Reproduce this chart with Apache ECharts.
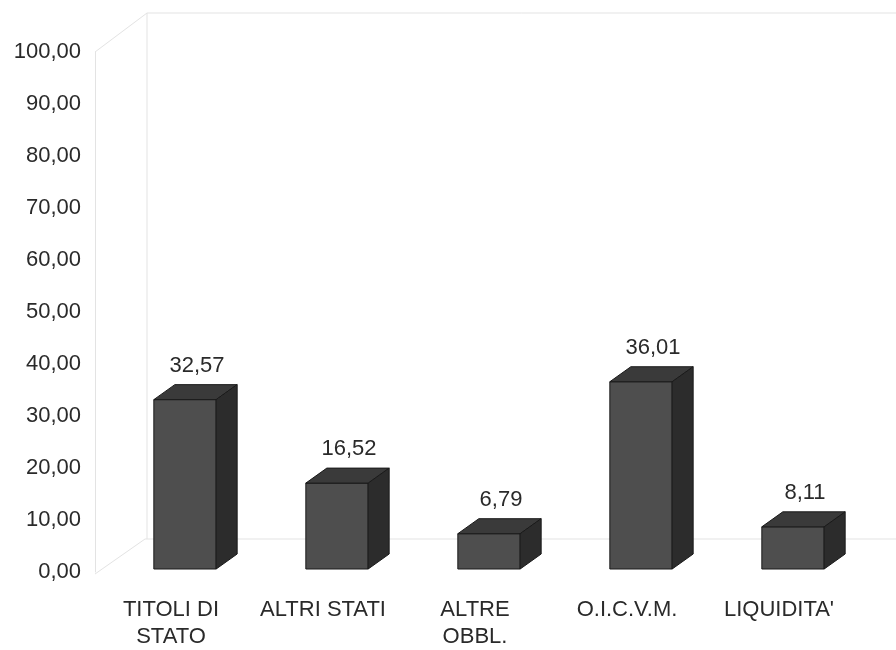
<!DOCTYPE html>
<html>
<head>
<meta charset="utf-8">
<script src="https://cdn.jsdelivr.net/npm/echarts@6/dist/echarts.min.js"></script>
<style>html,body{margin:0;padding:0;background:#fff}#c{width:896px;height:650px}</style>
</head>
<body>
<div id="c"></div>
<script>
const categories = ['TITOLI DI\nSTATO', 'ALTRI STATI', 'ALTRE\nOBBL.', 'O.I.C.V.M.', "LIQUIDITA'"];
const values = [32.57, 16.52, 6.79, 36.01, 8.11];
const yTicks = { min: 0, max: 100, interval: 10 };

const FONT = '"Liberation Sans", Arial, Helvetica, sans-serif';
const fmt = v => v.toFixed(2).replace('.', ',');

const chart = echarts.init(document.getElementById('c'), null, { renderer: 'canvas' });

function renderFrame(params, api) {
  const cs = params.coordSys;
  const x = cs.x, y = cs.y, b = cs.y + cs.height;
  const W = api.getWidth();
  const st = { stroke: '#e3e3e3', lineWidth: 1, fill: null };
  const line = (x1, y1, x2, y2) => ({ type: 'line', shape: { x1, y1, x2, y2 }, style: st, silent: true });
  return {
    type: 'group',
    children: [
      line(x, y, x + 52, y - 39),
      line(x + 52, y - 39, W, y - 39),
      line(x + 52, y - 39, x + 52, b - 33),
      line(x, b + 2, x + 50, b - 33),
      line(x + 50, b - 33, W, b - 33)
    ]
  };
}

function renderBar(params, api) {
  const top = api.coord([api.value(0), api.value(1)]);
  const base = api.coord([api.value(0), 0]);
  const band = api.size([1, 0])[0];
  const w = band * 0.41;
  const cx = top[0] + 14;
  const yT = top[1] - 3, yB = base[1] - 3;
  const dx = 21, dy = -15;
  const x0 = cx - w / 2, x1 = cx + w / 2;
  const edge = '#1a1a1a';
  return {
    type: 'group',
    children: [
      { type: 'polygon', shape: { points: [[x0, yT], [x1, yT], [x1, yB], [x0, yB]] },
        style: { fill: '#4e4e4e', stroke: edge, lineWidth: 1 } },
      { type: 'polygon', shape: { points: [[x0, yT], [x0 + dx, yT + dy], [x1 + dx, yT + dy], [x1, yT]] },
        style: { fill: '#3a3a3a', stroke: edge, lineWidth: 1 } },
      { type: 'polygon', shape: { points: [[x1, yT], [x1 + dx, yT + dy], [x1 + dx, yB + dy], [x1, yB]] },
        style: { fill: '#2c2c2c', stroke: edge, lineWidth: 1 } },
      { type: 'text', style: { text: fmt(api.value(1)), x: cx + 12, y: yT + dy - 19,
        align: 'center', verticalAlign: 'middle', font: '22px ' + FONT, fill: '#2a2a2a' } }
    ]
  };
}

chart.setOption({
  animation: false,
  backgroundColor: '#fff',
  grid: { left: 95, right: 41, top: 52, bottom: 77, containLabel: false },
  xAxis: {
    type: 'category',
    data: categories,
    axisLine: { show: false },
    axisTick: { show: false },
    splitLine: { show: false },
    axisLabel: {
      interval: 0, margin: 24, color: '#2a2a2a', fontSize: 22, lineHeight: 27,
      fontFamily: FONT
    }
  },
  yAxis: {
    type: 'value',
    min: yTicks.min, max: yTicks.max, interval: yTicks.interval,
    axisLine: { show: true, lineStyle: { color: '#e3e3e3', width: 1 } },
    axisTick: { show: false },
    splitLine: { show: false },
    axisLabel: { formatter: fmt, margin: 14, color: '#2a2a2a', fontSize: 22, fontFamily: FONT }
  },
  series: [
    { type: 'custom', renderItem: renderFrame, data: [[0, 0]], z: 1, silent: true, clip: false },
    { type: 'custom', renderItem: renderBar, encode: { x: 0, y: 1 },
      data: values.map((v, i) => [i, v]), z: 2, clip: false }
  ]
});
</script>
</body>
</html>
